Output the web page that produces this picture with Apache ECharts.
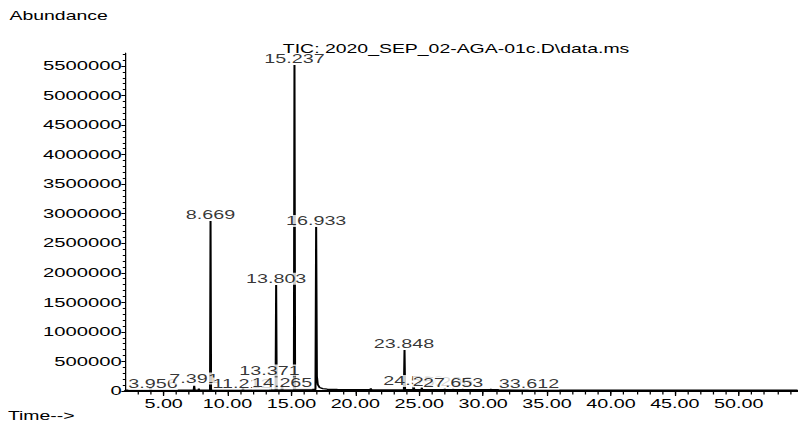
<!DOCTYPE html>
<html><head><meta charset="utf-8">
<script src="https://cdn.jsdelivr.net/npm/echarts@6/dist/echarts.min.js"></script>
<style>
html,body{margin:0;padding:0;background:#fff;overflow:hidden;width:798px;height:424px}
#chart{width:505px;height:424px;transform:scaleX(1.580198);transform-origin:0 0;}
</style></head><body><div id="chart"></div>
<script>
// ---- data ----
const traceTime = [2.0, 3.91, 3.956, 4.0, 7.35, 7.391, 7.43, 7.72, 7.753, 7.79, 8.63, 8.669, 8.71,
  11.17, 11.212, 11.25, 13.33, 13.371, 13.41, 13.76, 13.803, 13.845, 14.22, 14.265, 14.31,
  15.19, 15.237, 15.285, 16.88, 16.933, 16.99, 17.06, 17.2, 17.45, 17.8, 18.6,
  21.15, 21.21, 21.27, 23.80, 23.848, 23.89, 24.52, 24.566, 24.61, 25.17, 25.206, 25.24,
  26.9, 27.0, 27.1, 27.61, 27.653, 27.69, 28.3, 28.4, 28.5, 30.5, 30.6, 30.7,
  33.57, 33.612, 33.65, 54.6];
const traceAbund = [14000, 15000, 70000, 15000, 16000, 90000, 16000, 16000, 40000, 16000, 16000, 2877000, 18000,
  16000, 60000, 16000, 18000, 130000, 18000, 18000, 1794000, 20000, 20000, 110000, 20000,
  20000, 5517000, 25000, 25000, 2780000, 250000, 110000, 60000, 40000, 30000, 25000,
  22000, 40000, 22000, 20000, 694000, 22000, 22000, 90000, 22000, 22000, 60000, 22000,
  22000, 32000, 22000, 22000, 35000, 22000, 22000, 30000, 22000, 22000, 30000, 22000,
  20000, 26000, 20000, 15000];

const peakLabelTexts = ['3.956', '7.391', '8.669', '11.212', '13.371', '13.803', '14.265', '15.237',
  '16.933', '23.848', '24.566', '25.206', '27.653', '33.612'];
const peakLabelTimes = [4.17, 7.38, 8.669, 11.13, 13.28, 13.803, 14.27, 15.237,
  16.933, 23.81, 24.55, 26.86, 27.65, 33.59];
const peakLabelLevels = [118000, 210000, 2987000, 127000, 345000, 1900000, 130000, 5618000,
  2877000, 800000, 169000, 160000, 144000, 127000];

const xTickLabels = [5, 10, 15, 20, 25, 30, 35, 40, 45, 50];
const xMinorTicks = [3,4,5,6,7,8,9,10,11,12,13,14,15,16,17,18,19,20,21,22,23,24,25,26,27,28,29,30,
  31,32,33,34,35,36,37,38,39,40,41,42,43,44,45,46,47,48,49,50,51,52,53,54];
const yTickLabels = [0, 500000, 1000000, 1500000, 2000000, 2500000, 3000000, 3500000, 4000000,
  4500000, 5000000, 5500000];
const yMinorTicks = [];
for (let i = 1; i <= 57; i++) yMinorTicks.push(i * 100000);

const titleText = 'TIC: 2020_SEP_02-AGA-01c.D\\data.ms';
const yName = 'Abundance';
const xName = 'Time-->';

// ---- chart ----
const FONT = '"Liberation Sans", Arial, sans-serif';
const chart = echarts.init(document.getElementById('chart'), null, {renderer: 'svg'});
const X_MIN = 2.0, X_MAX = 54.6, Y_MAX = 5720000;
const tickStyle = {color: '#000', width: 0.8};
chart.setOption({
  animation: false,
  backgroundColor: '#fff',
  title: [
    {text: titleText, left: 179, top: 42, padding: 0,
     textStyle: {fontSize: 12.3, fontWeight: 'normal', color: '#000', fontFamily: FONT, lineHeight: 13}},
    {text: yName, left: 6, top: 8, padding: 0,
     textStyle: {fontSize: 12.3, fontWeight: 'normal', color: '#000', fontFamily: FONT, lineHeight: 14}},
    {text: xName, left: 5, top: 409, padding: 0,
     textStyle: {fontSize: 12.3, fontWeight: 'normal', color: '#000', fontFamily: FONT, lineHeight: 12}}
  ],
  grid: {left: 79.3, right: 0.3, top: 53, bottom: 33, containLabel: false},
  xAxis: [
    {type: 'value', min: X_MIN, max: X_MAX, position: 'bottom',
     axisLine: {show: true, onZero: false, lineStyle: {color: '#000', width: 2}},
     axisTick: {show: true, inside: false, length: 5, customValues: xTickLabels, lineStyle: tickStyle},
     axisLabel: {show: true, customValues: xTickLabels, margin: 6, color: '#000', fontSize: 12.5,
       fontFamily: FONT, lineHeight: 13, formatter: v => v.toFixed(2)},
     splitLine: {show: false}},
    {type: 'value', min: X_MIN, max: X_MAX, position: 'bottom', gridIndex: 0,
     axisLine: {show: false, onZero: false},
     axisTick: {show: true, inside: false, length: 3.5, customValues: xMinorTicks, lineStyle: tickStyle},
     axisLabel: {show: false}, splitLine: {show: false}}
  ],
  yAxis: [
    {type: 'value', min: 0, max: Y_MAX, position: 'left',
     axisLine: {show: true, onZero: false, lineStyle: {color: '#000', width: 0.8}},
     axisTick: {show: true, inside: false, length: 2.5, customValues: yTickLabels, lineStyle: {color: '#000', width: 1}},
     axisLabel: {show: true, customValues: yTickLabels, margin: 2.3, color: '#000', fontSize: 12.8,
       fontFamily: FONT, formatter: v => String(v)},
     splitLine: {show: false}},
    {type: 'value', min: 0, max: Y_MAX, position: 'left', gridIndex: 0,
     axisLine: {show: false, onZero: false},
     axisTick: {show: true, inside: false, length: 1.6, customValues: yMinorTicks, lineStyle: {color: '#000', width: 1}},
     axisLabel: {show: false}, splitLine: {show: false}}
  ],
  series: [
    {type: 'line', xAxisIndex: 0, yAxisIndex: 0, z: 2,
     data: traceTime.map((t, i) => [t, traceAbund[i]]),
     showSymbol: false, symbol: 'none', silent: true,
     lineStyle: {color: '#000', width: 1.3}},
    {type: 'scatter', xAxisIndex: 0, yAxisIndex: 0, z: 3, silent: true,
     data: peakLabelTimes.map((t, i) => [t, peakLabelLevels[i], peakLabelTexts[i]]),
     symbolSize: 1, itemStyle: {color: 'rgba(0,0,0,0)'},
     label: {show: true, position: 'inside', formatter: p => p.data[2], color: '#000',
       fontSize: 12.5, fontFamily: FONT, lineHeight: 12, backgroundColor: '#fff', padding: [0, 0]}}
  ]
});
</script></body></html>
